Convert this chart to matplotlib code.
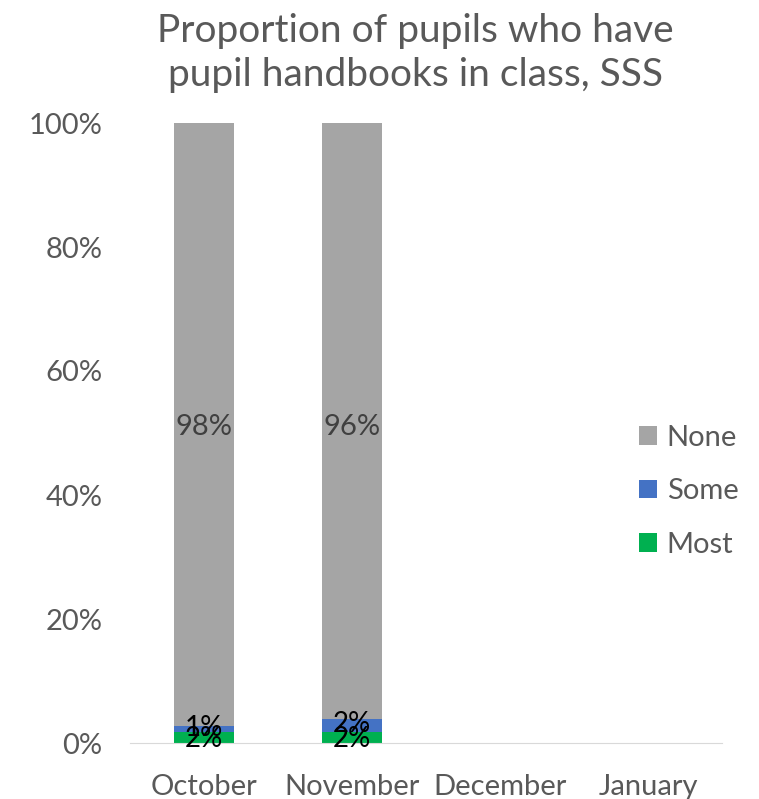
import matplotlib.pyplot as plt
import numpy as np

plt.rcParams['font.family'] = ['Lato', 'DejaVu Sans']

months = ['October', 'November', 'December', 'January']
most = [0.018, 0.018, 0, 0]
some = [0.010, 0.020, 0, 0]
none = [0.976, 0.962, 0, 0]
n_data = 2  # only first two months have data

fig = plt.figure(figsize=(7.59, 7.99), dpi=100)
ax = fig.add_axes([130/759, 1 - 743/799, 592/759, 620/799])

x = np.arange(len(months))
w = 0.4
green, blue, grey = '#00b050', '#4472c4', '#a5a5a5'
b1 = ax.bar(x[:n_data], most[:n_data], w, color=green, label='Most')
b2 = ax.bar(x[:n_data], some[:n_data], w, bottom=most[:n_data], color=blue, label='Some')
bot = np.array(most[:n_data]) + np.array(some[:n_data])
b3 = ax.bar(x[:n_data], none[:n_data], w, bottom=bot, color=grey, label='None')

for i in range(n_data):
    ax.text(x[i], most[i] / 2 - 0.002, f'{most[i]:.0%}', ha='center', va='center', fontsize=20, color='black')
    ax.text(x[i], most[i] + some[i] / 2 + 0.002, f'{some[i]:.0%}', ha='center', va='center', fontsize=20, color='black')
    ax.text(x[i], 0.51, f'{none[i]:.0%}', ha='center', va='center', fontsize=21, color='#404040')

ax.set_xlim(-0.5, 3.5)
ax.set_ylim(0, 1)
ax.set_yticks(np.arange(0, 1.01, 0.2))
ax.set_yticklabels([f'{int(v*100)}%' for v in np.arange(0, 1.01, 0.2)])
ax.set_xticks(x)
ax.set_xticklabels(months)
ax.tick_params(axis='both', length=0, labelsize=21, colors='#595959')
ax.tick_params(axis='y', pad=20)
ax.tick_params(axis='x', pad=22)
for s in ['top', 'right', 'left']:
    ax.spines[s].set_visible(False)
ax.spines['bottom'].set_color('#d9d9d9')

fig.text(0.547, 1 - 53/799, 'Proportion of pupils who have\npupil handbooks in class, SSS',
         ha='center', va='center', fontsize=28, color='#595959', linespacing=1.28)

leg = ax.legend(handles=[b3, b2, b1], loc='center left', bbox_to_anchor=(0.86, 0.406),
                frameon=False, fontsize=21, handlelength=0.6, handleheight=0.6,
                labelspacing=0.95, handletextpad=0.35, borderaxespad=0, borderpad=0)
for t in leg.get_texts():
    t.set_color('#595959')

fig.savefig('out.png', dpi=100)
